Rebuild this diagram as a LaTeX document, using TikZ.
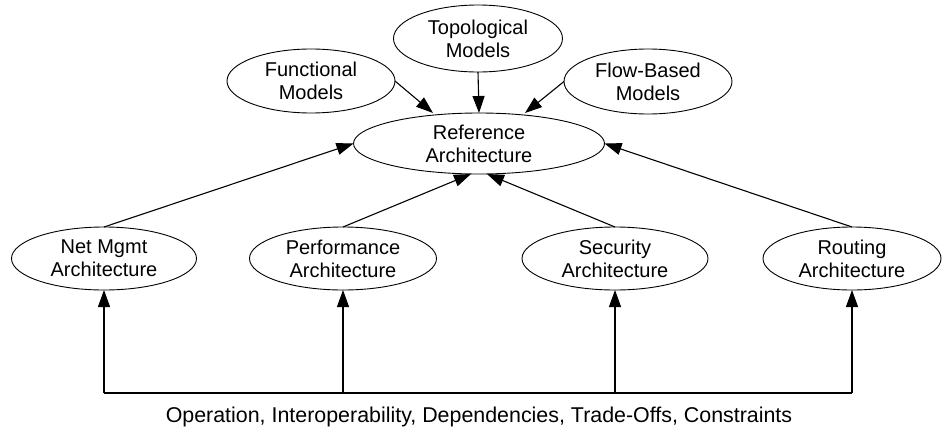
\documentclass[tikz,border=0pt]{standalone}
\usepackage{fontspec}
\setmainfont{Liberation Sans}
\usetikzlibrary{shapes.geometric,arrows.meta}
\begin{document}
\begin{tikzpicture}[x=1pt,y=-1pt,
  oval/.style={ellipse,draw,line width=0.9pt,inner sep=0pt,outer sep=0pt,
    align=center,font=\fontsize{20}{23}\selectfont},
  arr/.style={line width=1.1pt,-{Triangle[length=17pt,width=12pt]}},
  bus/.style={line width=1.1pt}]
\useasboundingbox (0,0) rectangle (942,426);
\node[oval,minimum width=168pt,minimum height=64pt] (fun) at (311,81) {Functional\\Models};
\node[oval,minimum width=169pt,minimum height=67pt] (topo) at (478,38.5) {Topological\\Models};
\node[oval,minimum width=168pt,minimum height=65pt] (flow) at (648,81.5) {Flow-Based\\Models};
\node[oval,minimum width=251pt,minimum height=61pt] (ref) at (479,143.5) {Reference\\Architecture};
\node[oval,minimum width=185pt,minimum height=63pt] (net) at (104,258.5) {Net Mgmt\\Architecture};
\node[oval,minimum width=187pt,minimum height=63pt] (perf) at (343,258.5) {Performance\\Architecture};
\node[oval,minimum width=186pt,minimum height=63pt] (sec) at (615,258.5) {Security\\Architecture};
\node[oval,minimum width=178pt,minimum height=63pt] (rout) at (852,258.5) {Routing\\Architecture};
\node[anchor=base,font=\fontsize{21.4}{24}\selectfont] (ops) at (479,422) {Operation, Interoperability, Dependencies, Trade-Offs, Constraints};
\coordinate (busL) at (104,393);
\coordinate (busR) at (852,393);
% top arrows
\draw[arr] (fun.east) -- (433,113);
\draw[arr] (topo.south) -- (ref.north);
\draw[arr] (flow.west) -- (525,113);
% lower arrows into reference
\draw[arr] (net.north) -- (ref.west);
\draw[arr] (perf.north) -- ([xshift=-8pt]ref.south);
\draw[arr] (sec.north) -- ([xshift=8pt]ref.south);
\draw[arr] (rout.north) -- (ref.east);
% bus
\draw[bus] (busL) -- (busR);
\draw[arr] (net.south |- busL) -- (net.south);
\draw[arr] (perf.south |- busL) -- (perf.south);
\draw[arr] (sec.south |- busL) -- (sec.south);
\draw[arr] (rout.south |- busL) -- (rout.south);
\end{tikzpicture}
\end{document}
